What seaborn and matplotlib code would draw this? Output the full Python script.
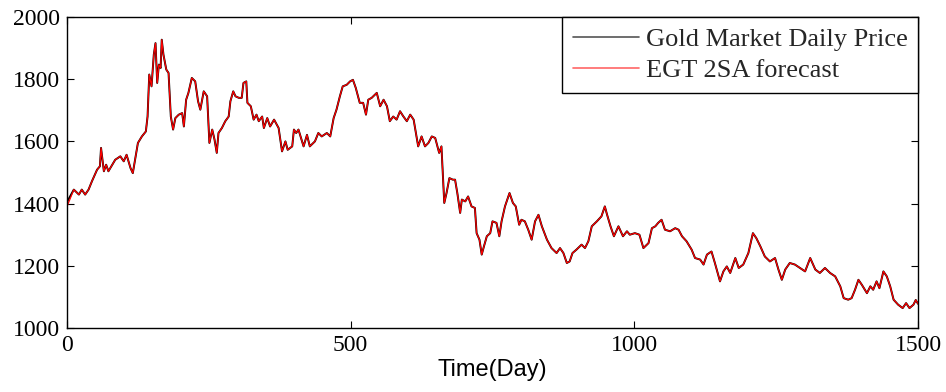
import matplotlib
matplotlib.use("Agg")
import matplotlib.pyplot as plt
import seaborn as sns
import pandas as pd

days = [0, 12, 21, 26, 32, 38, 44, 53, 58, 60, 65, 69, 73, 85, 94, 100, 105, 112, 116, 120,
        125, 132, 139, 142, 145, 149, 153, 156, 159, 162, 165, 167, 170, 175, 179, 183, 187, 191, 197, 203,
        206, 210, 214, 220, 226, 231, 235, 241, 247, 251, 256, 260, 264, 267, 273, 279, 285, 288, 293, 297,
        303, 308, 311, 316, 318, 324, 329, 334, 338, 344, 347, 353, 358, 365, 373, 379, 385, 389, 397, 400,
        404, 408, 417, 423, 428, 437, 443, 449, 458, 464, 470, 475, 481, 486, 493, 499, 504, 509, 516, 522,
        527, 531, 537, 546, 552, 558, 564, 569, 575, 581, 587, 593, 599, 605, 611, 616, 619, 625, 631, 637,
        643, 649, 653, 656, 660, 665, 669, 674, 680, 684, 688, 693, 696, 702, 707, 713, 719, 722, 727, 731,
        735, 740, 746, 750, 757, 762, 766, 772, 780, 786, 791, 797, 801, 807, 813, 819, 825, 831, 837, 846,
        854, 863, 869, 875, 881, 886, 891, 898, 907, 913, 919, 925, 934, 942, 948, 952, 958, 964, 972, 980,
        987, 992, 1001, 1009, 1016, 1025, 1031, 1037, 1042, 1048, 1054, 1063, 1072, 1078, 1084, 1092, 1101, 1107, 1116, 1122,
        1128, 1136, 1142, 1151, 1157, 1163, 1169, 1178, 1184, 1192, 1201, 1209, 1215, 1222, 1230, 1239, 1248, 1254, 1260, 1266,
        1274, 1283, 1292, 1301, 1310, 1319, 1327, 1336, 1345, 1354, 1363, 1369, 1377, 1383, 1389, 1395, 1401, 1410, 1416, 1421,
        1427, 1432, 1439, 1445, 1451, 1457, 1465, 1473, 1479, 1485, 1492, 1496, 1500]

gold_price = [1405, 1445, 1429, 1445, 1429, 1445, 1472, 1509, 1520, 1579, 1504, 1525, 1504, 1541, 1552, 1536, 1557, 1514, 1498, 1541,
              1595, 1616, 1632, 1680, 1815, 1777, 1879, 1916, 1788, 1847, 1836, 1927, 1879, 1831, 1820, 1680, 1638, 1675, 1686, 1691,
              1648, 1734, 1756, 1804, 1793, 1729, 1702, 1761, 1745, 1595, 1638, 1606, 1563, 1627, 1643, 1665, 1680, 1729, 1761, 1745,
              1740, 1740, 1788, 1793, 1724, 1713, 1670, 1686, 1665, 1680, 1643, 1675, 1648, 1670, 1643, 1568, 1600, 1573, 1584, 1638,
              1627, 1638, 1584, 1621, 1584, 1600, 1627, 1616, 1627, 1616, 1675, 1702, 1745, 1777, 1782, 1793, 1798, 1772, 1724, 1724,
              1686, 1734, 1740, 1756, 1713, 1734, 1713, 1665, 1680, 1670, 1697, 1680, 1665, 1686, 1670, 1616, 1584, 1616, 1584, 1595,
              1616, 1611, 1584, 1563, 1584, 1402, 1434, 1482, 1477, 1477, 1434, 1370, 1413, 1407, 1423, 1391, 1386, 1305, 1284, 1236,
              1263, 1295, 1305, 1343, 1338, 1295, 1343, 1391, 1434, 1402, 1391, 1332, 1348, 1343, 1316, 1284, 1343, 1364, 1327, 1284,
              1257, 1241, 1257, 1241, 1209, 1214, 1241, 1252, 1268, 1257, 1279, 1327, 1343, 1359, 1391, 1364, 1327, 1295, 1327, 1295,
              1311, 1300, 1305, 1300, 1257, 1273, 1321, 1327, 1338, 1348, 1316, 1311, 1321, 1316, 1295, 1279, 1252, 1225, 1220, 1204,
              1236, 1246, 1209, 1150, 1182, 1198, 1177, 1225, 1193, 1204, 1241, 1305, 1289, 1263, 1230, 1214, 1225, 1188, 1155, 1188,
              1209, 1204, 1193, 1182, 1225, 1188, 1177, 1193, 1177, 1166, 1134, 1096, 1091, 1096, 1123, 1155, 1139, 1112, 1134, 1123,
              1150, 1128, 1182, 1166, 1134, 1091, 1075, 1064, 1080, 1064, 1075, 1090, 1078]

forecast_days = [0, 1] + days[1:]
forecast_price = [1510, 1395] + gold_price[1:]

series_labels = ["Gold Market Daily Price", "EGT 2SA forecast"]
x_ticks = [0, 500, 1000, 1500]
y_ticks = [1000, 1200, 1400, 1600, 1800, 2000]
x_label = "Time(Day)"

sns.set_theme(style="white")
plt.rcParams["font.family"] = ["Liberation Serif", "DejaVu Serif"]

fig = plt.figure(figsize=(9.46, 3.92), dpi=100)
ax = fig.add_axes([67 / 946, 1 - 328 / 392, (918 - 67) / 946, (328 - 17) / 392])

df_gold = pd.DataFrame({"day": days, "price": gold_price})
df_fc = pd.DataFrame({"day": forecast_days, "price": forecast_price})

sns.lineplot(data=df_gold, x="day", y="price", color="black", linewidth=1.4, ax=ax,
             label=series_labels[0], sort=False)
sns.lineplot(data=df_fc, x="day", y="price", color="#ff0000", linewidth=0.9, ax=ax,
             label=series_labels[1], sort=False)

ax.set_xlim(0, 1500)
ax.set_ylim(1000, 2000)
ax.set_xticks(x_ticks)
ax.set_yticks(y_ticks)
ax.set_xticklabels([str(t) for t in x_ticks], fontsize=17)
ax.set_yticklabels([str(t) for t in y_ticks], fontsize=17)
ax.tick_params(direction="in", length=5, width=0.8, color="black", top=True, right=True,
               bottom=True, left=True, labelcolor="black", pad=5)
ax.set_ylabel("")
ax.set_xlabel(x_label, fontsize=17, family=["Liberation Sans", "DejaVu Sans"], labelpad=2, color="black")
for s in ax.spines.values():
    s.set_color("black")
    s.set_linewidth(1.0)
ax.grid(False)

leg = ax.legend(loc="upper right", bbox_to_anchor=(1.0, 1.0), borderaxespad=0, fontsize=19,
                frameon=True, fancybox=False, edgecolor="black", framealpha=1,
                handlelength=2.5, handletextpad=0.25, borderpad=0.4, labelspacing=0.3)
leg.get_frame().set_linewidth(1.0)
for line, c in zip(leg.get_lines(), ["#555555", "#ff6666"]):
    line.set_color(c)
    line.set_linewidth(1.2)

fig.savefig("out.png", dpi=100)
